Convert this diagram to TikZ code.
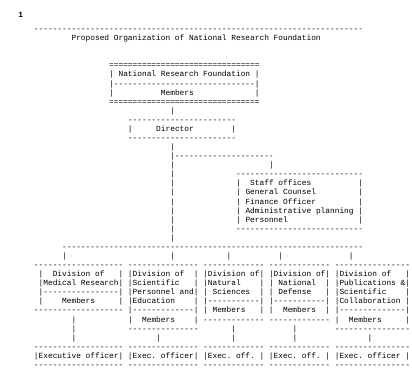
\documentclass[tikz,border=0pt]{standalone}
\usepackage{fontspec}
\setmonofont{Liberation Mono}
\usepackage{tikz}
\newcommand\chartfont{\ttfamily\fontsize{5.875}{7}\selectfont\frenchspacing}
\newcommand\rpt[2]{\foreach\k in {1,...,#1}{#2}}

\begin{document}
\begin{tikzpicture}[x=3.525pt, y=-6.81pt, every node/.style={anchor=base west, inner sep=0pt, outer sep=0pt, font=\chartfont}]
        \useasboundingbox (-7.234,-4.471) rectangle (80.426,37.269);
        % 页码
        \node[anchor=center, font=\chartfont\bfseries] (num) at (-2.83,-2.82) {1};
        % 标题
        \node (rule) at (0,-1) {\rpt{70}{-}};
        \node (title) at (8,0) {Proposed Organization of National Research Foundation};
        % 第一层
        \node (nrftop) at (16,3) {\rpt{32}{=}};
        \node (nrfname) at (16,4) {| National Research Foundation |};
        \node (nrfsep) at (16,5) {|\rpt{30}{-}|};
        \node (nrfmem) at (16,6) {|\rpt{10}{~}Members\rpt{13}{~}|};
        \node (nrfbot) at (16,7) {\rpt{32}{=}};
        \node (link1) at (29,8) {|};
        % 第二层
        \node (dirtop) at (20,9) {\rpt{23}{-}};
        \node (dir) at (20,10) {|\rpt{5}{~}Director\rpt{8}{~}|};
        \node (dirbot) at (20,11) {\rpt{23}{-}};
        \node (link2) at (29,12) {|};
        \node (branch) at (29,13) {|\rpt{21}{-}};
        \node (link3) at (29,14) {|\rpt{20}{~}|};
        % 参谋机构
        \node (stafftop) at (29,15) {|\rpt{13}{~}\rpt{27}{-}};
        \node (staff1) at (29,16) {|\rpt{13}{~}|~~Staff offices\rpt{10}{~}|};
        \node (staff2) at (29,17) {|\rpt{13}{~}| General Counsel\rpt{9}{~}|};
        \node (staff3) at (29,18) {|\rpt{13}{~}| Finance Officer\rpt{9}{~}|};
        \node (staff4) at (29,19) {|\rpt{13}{~}| Administrative planning |};
        \node (staff5) at (29,20) {|\rpt{13}{~}| Personnel\rpt{15}{~}|};
        \node (staffbot) at (29,21) {|\rpt{13}{~}\rpt{27}{-}};
        \node (link4) at (29,22) {|};
        % 第三层
        \node (bus) at (6,23) {\rpt{64}{-}};
        \node (drops) at (6,24) {|\rpt{22}{~}|\rpt{11}{~}|\rpt{10}{~}|\rpt{14}{~}|};
        \node (divtop) at (0,25) {\rpt{19}{-} \rpt{15}{-} \rpt{13}{-} \rpt{13}{-} \rpt{16}{-}};
        \node (div1) at (1,26) {|~~Division of~~~| |Division of~~| |Division of| |Division of| |Division of~~~|};
        \node (div2) at (1,27) {|Medical Research| |Scientific~~~| |Natural~~~~| |~National~~| |Publications \&|};
        \node (div3) at (1,28) {|\rpt{16}{-}| |Personnel and| |~Sciences~~| |~Defense~~~| |Scientific~~~~|};
        \node (div4) at (1,29) {|~~~~Members~~~~~| |Education~~~~| |\rpt{11}{-}| |\rpt{11}{-}| |Collaboration~|};
        \node (div5) at (0,30) {\rpt{19}{-} |\rpt{13}{-}| |~Members~~~| |~~Members~~| |\rpt{14}{-}|};
        \node (div6) at (8,31) {|\rpt{11}{~}|~~Members~~~~| \rpt{13}{-} \rpt{13}{-} |~~Members~~~~~|};
        \node (div7) at (8,32) {|\rpt{11}{~}\rpt{15}{-}\rpt{7}{~}|\rpt{12}{~}|\rpt{8}{~}\rpt{16}{-}};
        \node (div8) at (8,33) {|\rpt{17}{~}|\rpt{15}{~}|\rpt{12}{~}|\rpt{15}{~}|};
        % 第四层
        \node (exectop) at (0,34) {\rpt{19}{-} \rpt{15}{-} \rpt{13}{-} \rpt{13}{-} \rpt{16}{-}};
        \node (exec) at (0,35) {|Executive officer| |Exec. officer| |Exec. off.~| |Exec. off.~| |Exec. officer~|};
        \node (execbot) at (0,36) {\rpt{19}{-} \rpt{15}{-} \rpt{13}{-} \rpt{13}{-} \rpt{16}{-}};
    \end{tikzpicture}
\end{document}
